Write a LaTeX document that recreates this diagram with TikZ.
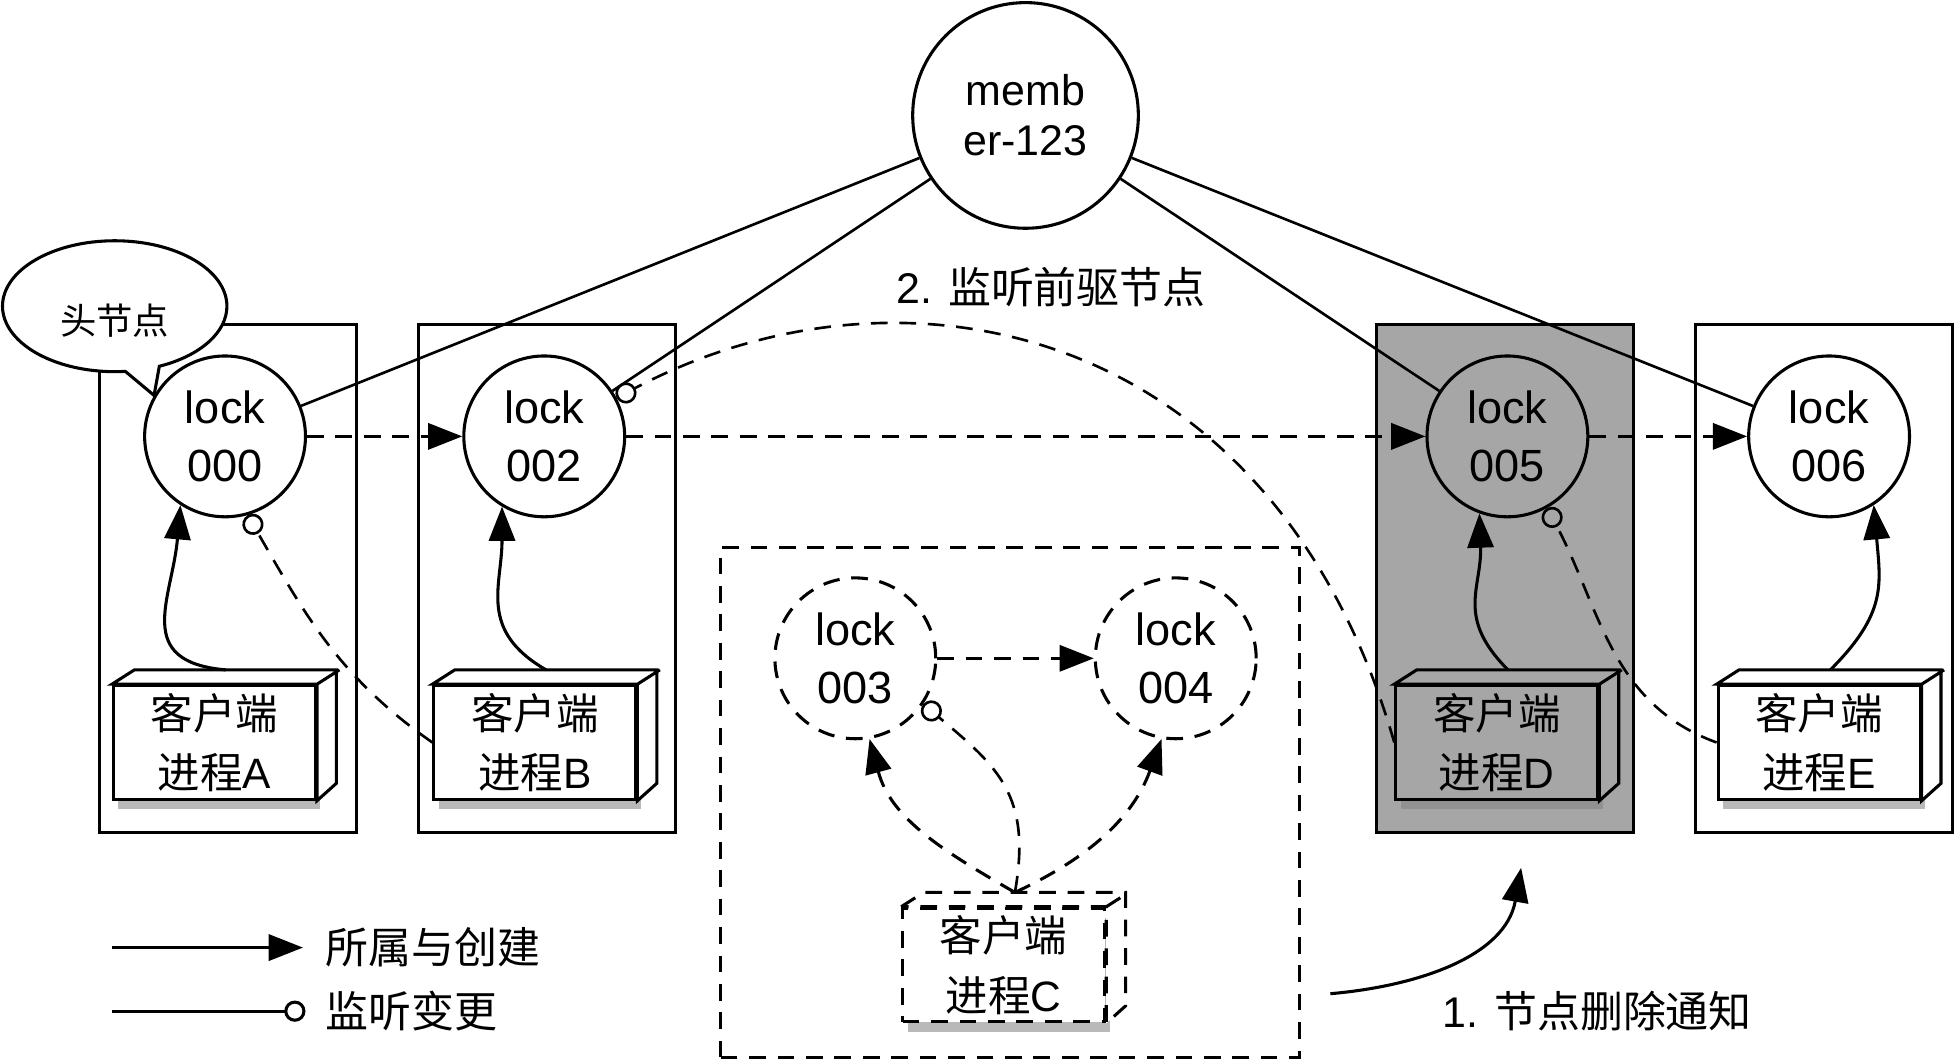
\documentclass[tikz,border=0pt]{standalone}
\usepackage{fontspec}
\setmainfont{Liberation Sans}
\newfontfamily\cjk{Noto Sans CJK SC}
\usetikzlibrary{arrows.meta,shapes.callouts,shadows}
\definecolor{boxgray}{HTML}{A6A6A6}
\tikzset{
  proc/.style={draw, line width=0.7pt, minimum width=2.06cm, minimum height=4.08cm},
  lk/.style={draw, circle, fill=white, line width=0.7pt, minimum size=1.29cm, inner sep=0pt, align=center, font=\fontsize{10.3}{13.4}\selectfont},
  cli/.style={draw, fill=white, line width=0.7pt, minimum width=1.62cm, minimum height=0.91cm, inner sep=0pt, align=center, font=\fontsize{9.7}{13.5}\selectfont, drop shadow={shadow xshift=0.04cm, shadow yshift=-0.08cm, opacity=0.55}},
  face/.style={draw, fill=white, line width=0.7pt},
  dsh/.style={dash pattern=on 0.134cm off 0.094cm},
  own/.style={-{Triangle[length=0.275cm, width=0.21cm]}, line width=0.7pt},
  watch/.style={-{Circle[open, length=0.17cm]}, line width=0.6pt, dsh},
  txt/.style={font=\fontsize{9.8}{12}\selectfont}
}
\begin{document}
\begin{tikzpicture}
    \useasboundingbox (0,0) rectangle (15.68,-8.526);

    % process boxes
    \node[proc] (bA) at (1.83,-4.64) {};
    \node[proc] (bB) at (4.39,-4.64) {};
    \node[proc, fill=boxgray] (bD) at (12.07,-4.64) {};
    \node[proc] (bE) at (14.63,-4.64) {};
    \node[proc, dsh, minimum width=4.64cm, minimum height=4.09cm] (grp) at (8.10,-6.435) {};

    \node[draw, circle, line width=0.7pt, minimum size=1.81cm, inner sep=0pt, align=center, font=\fontsize{9.8}{11.4}\selectfont] (memb) at (8.225,-0.926) {memb\\er-123};

    \node[lk] (l000) at (1.805,-3.50) {lock\\000};
    \node[lk] (l002) at (4.365,-3.50) {lock\\002};
    \node[lk, fill=boxgray] (l005) at (12.09,-3.50) {lock\\005};
    \node[lk] (l006) at (14.67,-3.50) {lock\\006};
    \node[lk, dsh] (l003) at (6.86,-5.28) {lock\\003};
    \node[lk, dsh] (l004) at (9.43,-5.28) {lock\\004};

    % client processes
    \node[cli] (cA) at (1.72,-5.955) {{\cjk 客户端}\\{\cjk 进程}A};
    \node[cli] (cB) at (4.29,-5.955) {{\cjk 客户端}\\{\cjk 进程}B};
    \node[cli, fill=boxgray] (cD) at (12.005,-5.955) {{\cjk 客户端}\\{\cjk 进程}D};
    \node[cli] (cE) at (14.59,-5.955) {{\cjk 客户端}\\{\cjk 进程}E};
    \node[cli, dsh] (cC) at (8.05,-7.74) {{\cjk 客户端}\\{\cjk 进程}C};
    \draw[face] (cA.north west) -- ++(0.18,0.115) -- ++(1.62,0) -- ++(0,-0.91) -- (cA.south east) -- (cA.north east) -- cycle (cA.north east) -- ++(0.18,0.115);
    \draw[face] (cB.north west) -- ++(0.18,0.115) -- ++(1.62,0) -- ++(0,-0.91) -- (cB.south east) -- (cB.north east) -- cycle (cB.north east) -- ++(0.18,0.115);
    \draw[face, fill=boxgray] (cD.north west) -- ++(0.18,0.115) -- ++(1.62,0) -- ++(0,-0.91) -- (cD.south east) -- (cD.north east) -- cycle (cD.north east) -- ++(0.18,0.115);
    \draw[face] (cE.north west) -- ++(0.18,0.115) -- ++(1.62,0) -- ++(0,-0.91) -- (cE.south east) -- (cE.north east) -- cycle (cE.north east) -- ++(0.18,0.115);
    \draw[face, dsh] (cC.north west) -- ++(0.18,0.115) -- ++(1.62,0) -- ++(0,-0.91) -- (cC.south east) -- (cC.north east) -- cycle (cC.north east) -- ++(0.18,0.115);

    \node[ellipse callout, draw, fill=white, line width=0.7pt, minimum width=1.80cm, minimum height=1.05cm, callout absolute pointer={(l000.150)}, callout pointer arc=18, font=\fontsize{8.3}{10}\selectfont, text height=13pt, text depth=0pt] (bub) at (0.92,-2.456) {\cjk 头节点};

    % membership
    \draw[line width=0.6pt] (memb) -- (l000);
    \draw[line width=0.6pt] (memb) -- (l002);
    \draw[line width=0.6pt] (memb) -- (l005);
    \draw[line width=0.6pt] (memb) -- (l006);

    % lock chain
    \draw[own, dsh] (l000) -- (l002);
    \draw[own, dsh] (l002) -- (l005);
    \draw[own, dsh] (l005) -- (l006);
    \draw[own, dsh] (l003) -- (l004);

    % create
    \draw[own] ([shift={(0.09,0.115)}]cA.north) to[out=175, in=-95, looseness=1.4] (l000.-123);
    \draw[own] ([shift={(0.09,0.115)}]cB.north) to[out=150, in=-90, looseness=1.2] (l002.-121);
    \draw[own] ([shift={(0.09,0.115)}]cD.north) to[out=135, in=-88, looseness=1.2] (l005.-110);
    \draw[own] ([shift={(0.09,0.115)}]cE.north) to[out=45, in=-85, looseness=1.2] (l006.-57);
    \draw[own, dsh] ([shift={(0.09,0.115)}]cC.north) to[out=150, in=-75] (l003.-80);
    \draw[own, dsh] ([shift={(0.09,0.115)}]cC.north) to[out=25, in=-110] (l004.-100);

    % watch
    \draw[watch] (cB.west) to[out=145, in=-60] (l000.-74);
    \draw[watch] (cE.west) to[out=160, in=-62] (l005.-61);
    \draw[watch] ([shift={(0.09,0.115)}]cC.north) to[out=80, in=-40, looseness=1.2] (l003.-34);
    \draw[watch] (cD.west) .. controls +(-0.97,3.36) and +(2.3,1.22) .. (l002.28);

    \node[txt] (t2) at (8.43,-2.30) {2. {\cjk 监听前驱节点}};
    \coordinate (n1) at (10.67,-7.97);
    \coordinate (n2) at (12.20,-6.96);
    \draw[own] (n1) to[out=5, in=-100] (n2);
    \node[txt] (t1) at (12.81,-8.11) {1. {\cjk 节点删除通知}};

    % legend
    \coordinate (k1) at (0.90,-7.60);
    \coordinate (k2) at (2.43,-7.60);
    \coordinate (k3) at (0.90,-8.11);
    \coordinate (k4) at (2.45,-8.11);
    \draw[own] (k1) -- (k2);
    \draw[-{Circle[open, length=0.17cm]}, line width=0.7pt] (k3) -- (k4);
    \node[txt, anchor=west] (lg1) at (2.49,-7.60) {\cjk 所属与创建};
    \node[txt, anchor=west] (lg2) at (2.49,-8.11) {\cjk 监听变更};
\end{tikzpicture}
\end{document}
